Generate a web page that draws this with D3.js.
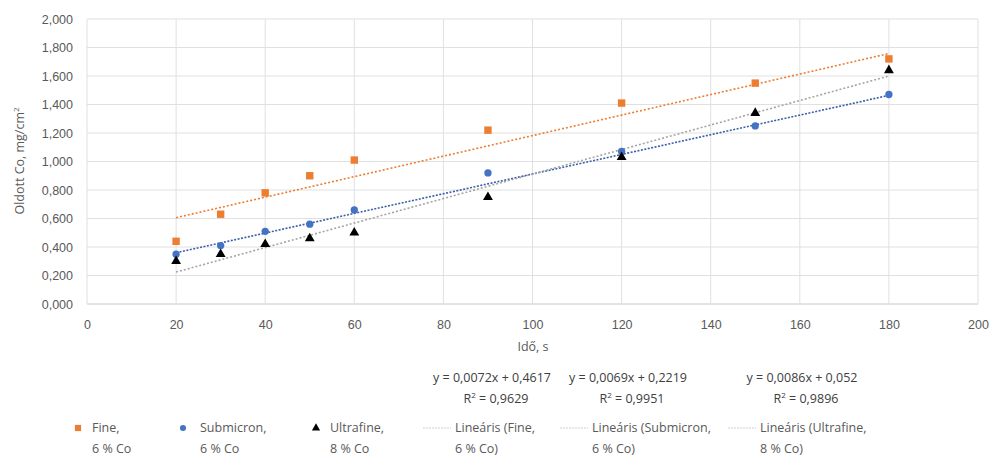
<!DOCTYPE html>
<html><head><meta charset="utf-8">
<script src="https://cdn.jsdelivr.net/npm/d3@7"></script>
<style>body{margin:0;background:#fff}svg{font-family:"Open Sans","Liberation Sans",sans-serif}</style>
</head><body><svg id="c" width="993" height="459"></svg>
<script>
const xTicks = [0,20,40,60,80,100,120,140,160,180,200];
const yTicks = [0,0.2,0.4,0.6,0.8,1.0,1.2,1.4,1.6,1.8,2.0];
const times = [20,30,40,50,60,90,120,150,180];
const fine = [0.44,0.63,0.78,0.90,1.01,1.22,1.41,1.55,1.72];
const submicron = [0.35,0.41,0.51,0.56,0.66,0.92,1.07,1.25,1.47];
const ultrafine = [0.30,0.35,0.42,0.46,0.50,0.75,1.03,1.34,1.64];
const seriesNames = ["Fine,|6 % Co","Submicron,|6 % Co","Ultrafine,|8 % Co"];
const trendNames = ["Lineáris (Fine,|6 % Co)","Lineáris (Submicron,|6 % Co)","Lineáris (Ultrafine,|8 % Co)"];
const slopes = [0.0072,0.0069,0.0086];
const intercepts = [0.4617,0.2219,0.052];
const equations = ["y = 0,0072x + 0,4617","y = 0,0069x + 0,2219","y = 0,0086x + 0,052"];
const r2 = ["0,9629","0,9951","0,9896"];
const colors = ["#ED7D31","#4472C4","#000000"];
const trendColors = ["#ED7D31","#3A5FA8","#A5A5A5"];

const svg = d3.select("#c");
const x = d3.scaleLinear().domain([0,200]).range([87,978]);
const y = d3.scaleLinear().domain([0,2]).range([304,19]);
const fmtYc = v => { const s = d3.format(".3f")(v); return s.replace(/^(\d)\.(\d{3})$/, "$1,$2"); };

// gridlines
svg.append("g").selectAll("line").data(yTicks).join("line")
  .attr("x1",x(0)).attr("x2",x(200)).attr("y1",d=>y(d)).attr("y2",d=>y(d))
  .attr("stroke",d=>d===0?"#c8c8c8":"#e0e0e0").attr("stroke-width",1);
svg.append("g").selectAll("line").data(xTicks).join("line")
  .attr("y1",y(0)).attr("y2",y(2)).attr("x1",d=>x(d)).attr("x2",d=>x(d))
  .attr("stroke","#e0e0e0").attr("stroke-width",1);

// axes labels
const yAxis = svg.append("g").attr("transform",`translate(${x(0)},0)`)
  .call(d3.axisLeft(y).tickValues(yTicks).tickSize(0).tickPadding(14).tickFormat(fmtYc));
yAxis.select(".domain").remove();
yAxis.selectAll("text").attr("fill","#595959").style("font-size","12.5px");
const xAxis = svg.append("g").attr("transform",`translate(0,${y(0)})`)
  .call(d3.axisBottom(x).tickValues(xTicks).tickSize(0).tickPadding(16).tickFormat(d3.format("d")));
xAxis.select(".domain").remove();
xAxis.selectAll("text").attr("fill","#595959").style("font-size","12.5px");

svg.append("text").attr("x",533).attr("y",351).attr("text-anchor","middle")
  .attr("fill","#595959").style("font-size","12.5px").text("Idő, s");
const yt = svg.append("text").attr("transform","translate(24,161) rotate(-90)").attr("text-anchor","middle")
  .attr("fill","#595959").style("font-size","12.5px");
yt.append("tspan").text("Oldott Co, mg/cm");
yt.append("tspan").attr("dy",-5).style("font-size","8px").text("2");

// trend lines
const allSeries = [fine,submicron,ultrafine];
const dashes = ["2,2","2,1.5","2,2"];
slopes.forEach((m,i)=>{
  const x0 = d3.min(times), x1 = d3.max(times);
  svg.append("line").attr("x1",x(x0)).attr("x2",x(x1))
    .attr("y1",y(m*x0+intercepts[i])).attr("y2",y(m*x1+intercepts[i]))
    .attr("stroke",trendColors[i]).attr("stroke-width",1.6).attr("stroke-dasharray",dashes[i]);
});

// markers
const sym = [d3.symbolSquare,d3.symbolCircle,d3.symbolTriangle];
const sizes = [55,42,42];
allSeries.forEach((vals,i)=>{
  svg.append("g").selectAll("path").data(vals).join("path")
    .attr("transform",(d,j)=>`translate(${x(times[j])},${y(d)})`)
    .attr("d",d3.symbol().type(sym[i]).size(sizes[i]))
    .attr("fill",colors[i]);
});

// equations
const eqX = [492,628,802];
equations.forEach((e,i)=>{
  svg.append("text").attr("x",eqX[i]).attr("y",382).attr("text-anchor","middle")
    .attr("fill","#404040").style("font-size","12.5px").text(e);
  const t = svg.append("text").attr("x",eqX[i]+4).attr("y",403).attr("text-anchor","middle")
    .attr("fill","#404040").style("font-size","12.5px");
  t.append("tspan").text("R");
  t.append("tspan").attr("dy",-5).style("font-size","8px").text("2");
  t.append("tspan").attr("dy",5).text(" = "+r2[i]);
});

// legend
const legMX = [78,183,316];
const legTX = [92,200,330];
seriesNames.forEach((n,i)=>{
  svg.append("path").attr("transform",`translate(${legMX[i]},${428})`)
    .attr("d",d3.symbol().type(sym[i]).size(sizes[i]*0.7)).attr("fill",colors[i]);
  const parts = n.split("|");
  parts.forEach((p,k)=>svg.append("text").attr("x",legTX[i]).attr("y",432+k*21)
    .attr("fill","#595959").style("font-size","12.5px").text(p));
});
const legLX = [423,560,728];
trendNames.forEach((n,i)=>{
  svg.append("line").attr("x1",legLX[i]).attr("x2",legLX[i]+28).attr("y1",428).attr("y2",428)
    .attr("stroke","#d0d0d0").attr("stroke-width",1.2).attr("stroke-dasharray","2,1");
  const parts = n.split("|");
  parts.forEach((p,k)=>svg.append("text").attr("x",legLX[i]+32).attr("y",432+k*21)
    .attr("fill","#595959").style("font-size","12.5px").text(p));
});
</script></body></html>
